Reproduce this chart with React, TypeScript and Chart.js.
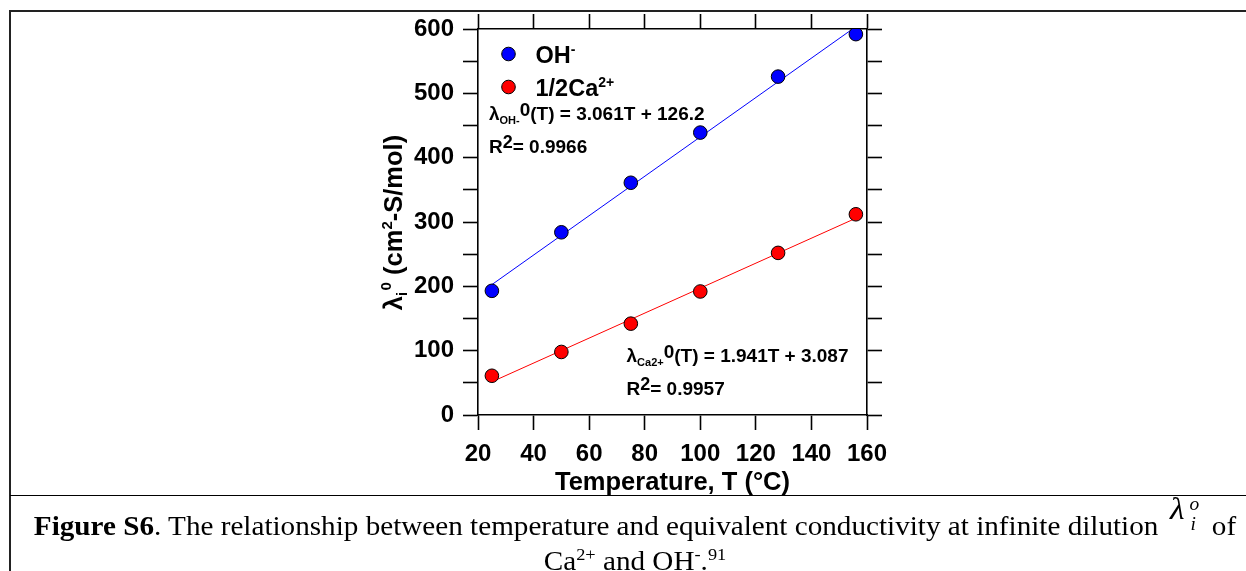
import React, { useEffect, useRef } from "react";
import { Chart, registerables } from "chart.js";

Chart.register(...registerables);

// ---- data ----
const temperatures = [25, 50, 75, 100, 128, 156];
const ohValues = [193, 284, 361, 439, 526, 592];
const caValues = [61, 98, 142, 192, 252, 312];
const fitTemps = [25, 156];
const ohFitValues = [202.7, 603.7];
const caFitValues = [51.6, 305.9];
const yLabelValues = [0, 100, 200, 300, 400, 500, 600];

const SANS = '"Liberation Sans", Arial, Helvetica, sans-serif';
const SERIF = '"Liberation Serif", "Times New Roman", Times, serif';

type Seg = { t: string; size: number; dy?: number };

function drawRich(ctx: CanvasRenderingContext2D, x: number, y: number, segs: Seg[]) {
  let cx = x;
  for (const s of segs) {
    ctx.font = `bold ${s.size}px ${SANS}`;
    ctx.fillText(s.t, cx, y + (s.dy || 0));
    cx += ctx.measureText(s.t).width;
  }
  return cx;
}
function measureRich(ctx: CanvasRenderingContext2D, segs: Seg[]) {
  let w = 0;
  for (const s of segs) {
    ctx.font = `bold ${s.size}px ${SANS}`;
    w += ctx.measureText(s.t).width;
  }
  return w;
}

const textPlugin = {
  id: "textPlugin",
  afterDraw(chart: any) {
    const ctx: CanvasRenderingContext2D = chart.ctx;
    const a = chart.chartArea;
    ctx.save();
    ctx.fillStyle = "#000";
    ctx.textAlign = "left";
    ctx.textBaseline = "alphabetic";

    // legend
    const lx = a.left + 30.5;
    const items = [
      { color: "#0000ff", y: a.top + 25, segs: [{ t: "OH", size: 23.5 }, { t: "-", size: 14, dy: -9 }] },
      { color: "#ff0000", y: a.top + 58, segs: [{ t: "1/2Ca", size: 23.5 }, { t: "2+", size: 14, dy: -9 }] },
    ];
    for (const it of items) {
      ctx.beginPath();
      ctx.arc(lx, it.y, 6.8, 0, Math.PI * 2);
      ctx.fillStyle = it.color;
      ctx.fill();
      ctx.lineWidth = 1;
      ctx.strokeStyle = "#000";
      ctx.stroke();
      ctx.fillStyle = "#000";
      drawRich(ctx, a.left + 57.5, it.y + 8.5, it.segs);
    }

    // equations
    const eq = (x: number, y: number, sub: string, rest: string, r2: string) => {
      drawRich(ctx, x, y, [
        { t: "λ", size: 19 },
        { t: sub, size: 11, dy: 4 },
        { t: "0", size: 19, dy: -4 },
        { t: rest, size: 19 },
      ]);
      drawRich(ctx, x, y + 32.5, [
        { t: "R", size: 19 },
        { t: "2", size: 18, dy: -5 },
        { t: r2, size: 19 },
      ]);
    };
    eq(a.left + 11, a.top + 91, "OH-", "(T) = 3.061T + 126.2", "= 0.9966");
    eq(a.left + 148.5, a.top + 333, "Ca2+", "(T) = 1.941T + 3.087", "= 0.9957");

    // x title
    const xt: Seg[] = [{ t: "Temperature, T (°C)", size: 25.5 }];
    const xw = measureRich(ctx, xt);
    drawRich(ctx, (a.left + a.right) / 2 - xw / 2, a.bottom + 75, xt);

    // y title (rotated)
    const yt: Seg[] = [
      { t: "λ", size: 25.5 },
      { t: "i", size: 14, dy: 5 },
      { t: " ", size: 6 },
      { t: "0", size: 15, dy: -11 },
      { t: " (cm", size: 25.5 },
      { t: "2", size: 15, dy: -10 },
      { t: "-S/mol)", size: 25.5 },
    ];
    const yw = measureRich(ctx, yt);
    ctx.translate(a.left - 76, (a.top + a.bottom) / 2 + 0.5);
    ctx.rotate(-Math.PI / 2);
    drawRich(ctx, -yw / 2, 0, yt);
    ctx.restore();
  },
};

const axisGrid = { drawOnChartArea: false, drawTicks: true, tickLength: 15, tickColor: "#000", tickWidth: 1.6 };
const axisBorder = { display: true, color: "#000", width: 1.6 };
const tickFont = { family: SANS, size: 24, weight: "bold" as const };

function ChartView() {
  const ref = useRef<HTMLCanvasElement | null>(null);
  useEffect(() => {
    if (!ref.current) return;
    const chart = new Chart(ref.current, {
      type: "scatter",
      data: {
        datasets: [
          {
            label: "OH-",
            data: temperatures.map((t, i) => ({ x: t, y: ohValues[i] })),
            backgroundColor: "#0000ff",
            borderColor: "#000",
            borderWidth: 1,
            pointRadius: 6.8,
            showLine: false,
          },
          {
            label: "1/2Ca2+",
            data: temperatures.map((t, i) => ({ x: t, y: caValues[i] })),
            backgroundColor: "#ff0000",
            borderColor: "#000",
            borderWidth: 1,
            pointRadius: 6.8,
            showLine: false,
          },
          {
            label: "OH fit",
            data: fitTemps.map((t, i) => ({ x: t, y: ohFitValues[i] })),
            borderColor: "#0000ff",
            borderWidth: 1,
            pointRadius: 0,
            showLine: true,
          },
          {
            label: "Ca fit",
            data: fitTemps.map((t, i) => ({ x: t, y: caFitValues[i] })),
            borderColor: "#ff0000",
            borderWidth: 1,
            pointRadius: 0,
            showLine: true,
          },
        ],
      },
      options: {
        animation: false,
        responsive: false,
        maintainAspectRatio: false,
        layout: { padding: 0 },
        plugins: { legend: { display: false }, tooltip: { enabled: false }, title: { display: false } },
        scales: {
          x: {
            type: "linear",
            position: "bottom",
            min: 20,
            max: 160,
            ticks: { stepSize: 20, font: tickFont, color: "#000", padding: 10, autoSkip: false, maxRotation: 0 },
            grid: axisGrid,
            border: axisBorder,
            afterFit: (s: any) => { s.height = 80; },
          },
          x2: {
            type: "linear",
            position: "top",
            min: 20,
            max: 160,
            ticks: { stepSize: 20, display: false },
            grid: axisGrid,
            border: axisBorder,
            afterFit: (s: any) => { s.height = 29; },
          },
          y: {
            type: "linear",
            position: "left",
            min: 0,
            max: 600,
            ticks: {
              stepSize: 50,
              font: tickFont,
              color: "#000",
              padding: 9,
              autoSkip: false,
              callback: (v: any) => (yLabelValues.includes(Number(v)) ? String(v) : ""),
            },
            grid: axisGrid,
            border: axisBorder,
            afterFit: (s: any) => { s.width = 478; },
          },
          y2: {
            type: "linear",
            position: "right",
            min: 0,
            max: 600,
            ticks: { stepSize: 50, display: false },
            grid: axisGrid,
            border: axisBorder,
            afterFit: (s: any) => { s.width = 379; },
          },
        },
      } as any,
      plugins: [textPlugin],
    });
    return () => chart.destroy();
  }, []);
  return (
    <canvas
      ref={ref}
      width={1246}
      height={495}
      style={{ position: "absolute", left: 0, top: 0, width: 1246, height: 495 }}
    />
  );
}

export default function App() {
  useEffect(() => {
    document.body.style.margin = "0";
  }, []);
  return (
    <div style={{ position: "fixed", left: 0, top: 0, width: 1246, height: 571, overflow: "hidden", background: "#fff" }}>
      <div
        style={{
          position: "absolute",
          left: 9,
          top: 10,
          width: 1260,
          height: 600,
          borderTop: "2px solid #222",
          borderLeft: "2px solid #222",
        }}
      />
      <div style={{ position: "absolute", left: 10, top: 495, width: 1260, height: 0, borderTop: "1.5px solid #000" }} />
      <ChartView />
      <div
        style={{
          position: "absolute",
          left: 11,
          top: 509,
          width: 1248,
          textAlign: "center",
          fontFamily: SERIF,
          fontSize: 27,
          lineHeight: "35px",
          color: "#000",
          whiteSpace: "nowrap",
          transform: "scaleX(1.08)",
          transformOrigin: "624px 0",
        }}
      >
        <b>Figure S6</b>. The relationship between temperature and equivalent conductivity at infinite dilution{" "}
        <span style={{ display: "inline-block", position: "relative", width: 36, height: 20 }}>
          <span style={{ position: "absolute", left: 4, top: -24, fontStyle: "italic", fontSize: 31 }}>λ</span>
          <span style={{ position: "absolute", left: 22, top: -28, fontStyle: "italic", fontSize: 18 }}>o</span>
          <span style={{ position: "absolute", left: 23, top: -8, fontStyle: "italic", fontSize: 18 }}>i</span>
        </span>{" "}
        of
        <br />
        Ca<sup style={{ fontSize: 17, lineHeight: 0 }}>2+</sup> and OH<sup style={{ fontSize: 17, lineHeight: 0 }}>-</sup>.
        <sup style={{ fontSize: 17, lineHeight: 0 }}>91</sup>
      </div>
    </div>
  );
}
